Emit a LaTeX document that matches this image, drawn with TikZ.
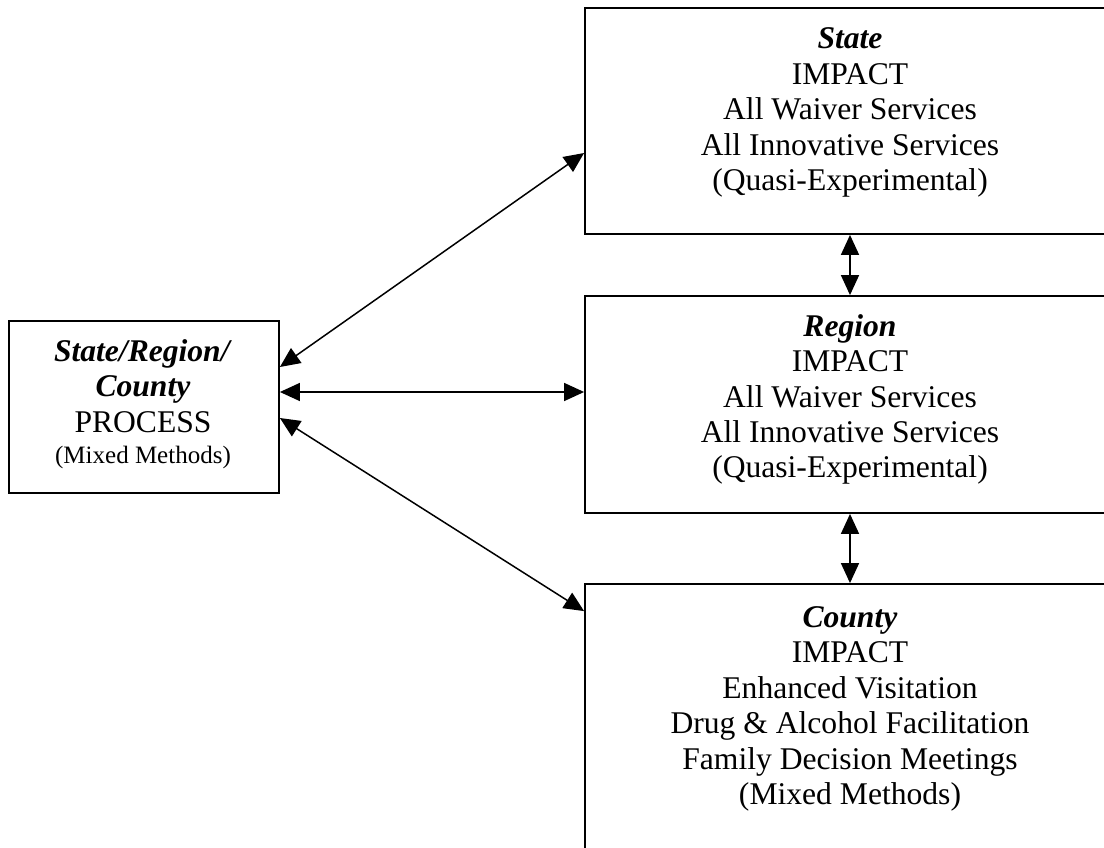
\documentclass[tikz,border=0pt]{standalone}
\usepackage{fontspec}
\setmainfont{Liberation Serif}
\usetikzlibrary{arrows.meta}
\begin{document}
\begin{tikzpicture}[x=1pt,y=1pt,
  box/.style={draw, line width=1.8pt, inner sep=0pt},
  txt/.style={anchor=base, inner sep=0pt, font=\fontsize{31.6}{35.5}\selectfont},
  link/.style={{Triangle[length=20pt,width=18pt]}-{Triangle[length=20pt,width=18pt]}, line width=1.5pt}]
\clip (0,0) rectangle (1104,-848);
% boxes
\node[box, minimum width=270pt, minimum height=172pt] (L) at (144,-407) {};
\node[box, minimum width=530pt, minimum height=226pt] (S) at (850,-121) {};
\node[box, minimum width=530pt, minimum height=217pt] (R) at (850,-404.5) {};
\node[box, minimum width=530pt, minimum height=296pt] (C) at (850,-732) {};
% texts
\node[txt] (Lt) at (143,-361) {\begin{tabular}[t]{@{}c@{}}\textbf{\textit{State/Region/}}\\ \textbf{\textit{County}}\\ PROCESS\\[-4pt] {\fontsize{25}{28}\selectfont (Mixed Methods)}\end{tabular}};
\node[txt] (St) at (850,-49) {\begin{tabular}[t]{@{}c@{}}\textbf{\textit{State}}\\ IMPACT\\ All Waiver Services\\ All Innovative Services\\ (Quasi-Experimental)\end{tabular}};
\node[txt] (Rt) at (850,-336) {\begin{tabular}[t]{@{}c@{}}\textbf{\textit{Region}}\\ IMPACT\\ All Waiver Services\\ All Innovative Services\\ (Quasi-Experimental)\end{tabular}};
\node[txt] (Ct) at (850,-627) {\begin{tabular}[t]{@{}c@{}}\textbf{\textit{County}}\\ IMPACT\\ Enhanced Visitation\\ Drug \& Alcohol Facilitation\\ Family Decision Meetings\\ (Mixed Methods)\end{tabular}};
% connectors
\draw[link] ([yshift=40pt]L.east) -- ([yshift=-32pt]S.west);
\draw[link] ([yshift=15pt]L.east) -- ([yshift=12.5pt]R.west);
\draw[link] ([yshift=-11pt]L.east) -- ([yshift=-28pt]C.north west);
\draw[link] (S.south) -- (R.north);
\draw[link] (R.south) -- (C.north);
\end{tikzpicture}
\end{document}
